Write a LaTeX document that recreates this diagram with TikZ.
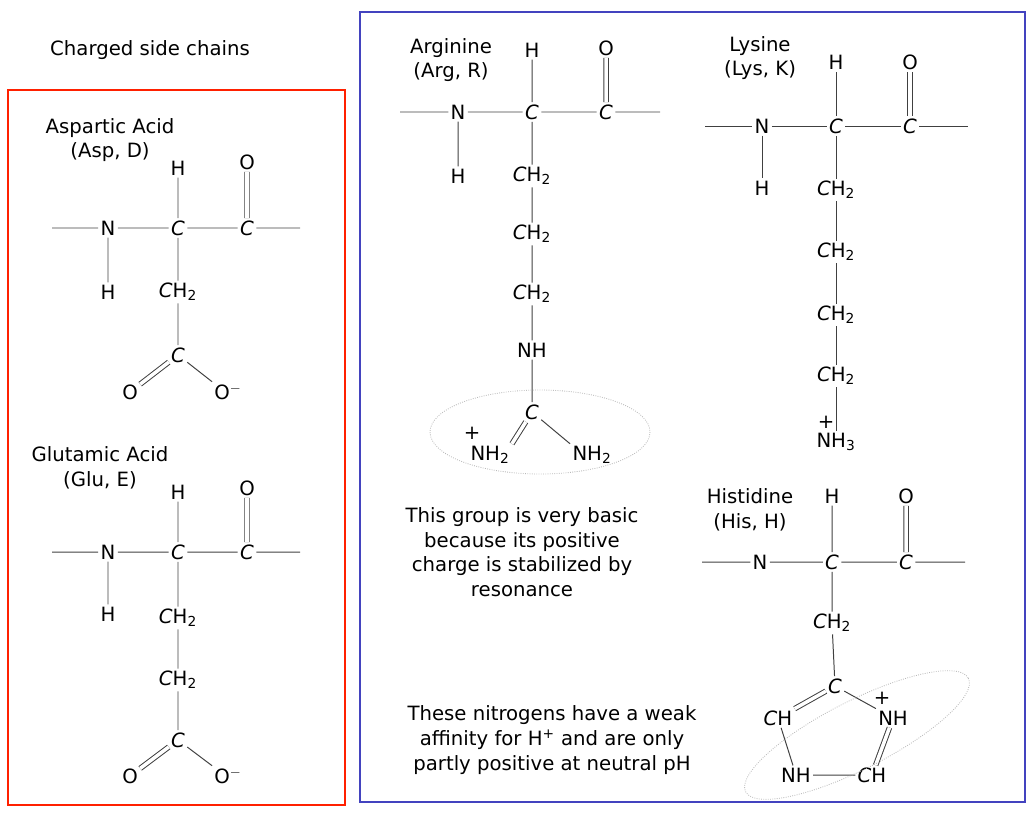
\documentclass[tikz,border=0pt]{standalone}
\usepackage{fontspec}
\setmainfont{DejaVu Sans}
\begin{document}
\begin{tikzpicture}[x=0.025cm,y=-0.025cm,
  every node/.style={font=\fontsize{14}{16}\selectfont},
  atm/.style={inner sep=1.5pt},
  bond/.style={line width=0.7pt,black!75},
  dbl/.style={line width=0.7pt,black!75,double distance=2.5pt},
  lbl/.style={align=center,font=\fontsize{14}{17.5}\selectfont},
  halo/.style={gray!55,densely dotted,line width=0.6pt}]
\useasboundingbox (0,0) rectangle (1036,815);
\newcommand{\Cc}{\textit{C}}
\node (title) at (150,50) {Charged side chains};
\draw[red!75!orange,line width=1.5pt] (8,90) rectangle (345,805);
\draw[blue!65!white!75!black,line width=1.5pt] (360,12) rectangle (1025,802);
% Asp
\node[lbl] (asplab) at (110,140) {Aspartic Acid\\(Asp, D)};
\coordinate (aL) at (52,228); \coordinate (aR) at (300,228);
\node[atm] (aN) at (108,228) {N}; \node[atm] (aCa) at (178,228) {\Cc}; \node[atm] (aC) at (247,228) {\Cc};
\node[atm] (aH) at (178,168) {H}; \node[atm] (aO) at (247,162) {O}; \node[atm] (aHn) at (108,292) {H};
\node[atm] (aB) at (178,292) {\Cc H\textsubscript{2}}; \node[atm] (aG) at (178,355) {\Cc};
\node[atm] (aO1) at (130,392) {O}; \node[atm] (aO2) at (228,392) {O$^{-}$};
\draw[bond] (aL)--(aN) (aN)--(aCa) (aCa)--(aC) (aC)--(aR) (aCa)--(aH) (aN)--(aHn) (aCa)--(aB) (aB)--(aG) (aG)--(aO2.north west);
\draw[dbl] (aC)--(aO) (aG)--(aO1);
% Glu
\node[lbl] (glulab) at (100,468) {Glutamic Acid\\(Glu, E)};
\coordinate (gL) at (52,552); \coordinate (gR) at (300,552);
\node[atm] (gN) at (108,552) {N}; \node[atm] (gCa) at (178,552) {\Cc}; \node[atm] (gC) at (247,552) {\Cc};
\node[atm] (gH) at (178,492) {H}; \node[atm] (gO) at (247,488) {O}; \node[atm] (gHn) at (108,614) {H};
\node[atm] (gB) at (178,618) {\Cc H\textsubscript{2}}; \node[atm] (gG) at (178,680) {\Cc H\textsubscript{2}};
\node[atm] (gD) at (178,740) {\Cc};
\node[atm] (gO1) at (130,776) {O}; \node[atm] (gO2) at (228,776) {O$^{-}$};
\draw[bond] (gL)--(gN) (gN)--(gCa) (gCa)--(gC) (gC)--(gR) (gCa)--(gH) (gN)--(gHn) (gCa)--(gB) (gB)--(gG) (gG)--(gD) (gD)--(gO2.north west);
\draw[dbl] (gC)--(gO) (gD)--(gO1);
% Arg
\node[lbl] (arglab) at (451,60) {Arginine\\(Arg, R)};
\coordinate (rL) at (400,112); \coordinate (rR) at (660,112);
\node[atm] (rN) at (458,112) {N}; \node[atm] (rCa) at (532,112) {\Cc}; \node[atm] (rC) at (606,112) {\Cc};
\node[atm] (rH) at (532,50) {H}; \node[atm] (rO) at (606,48) {O}; \node[atm] (rHn) at (458,176) {H};
\node[atm] (r1) at (532,176) {\Cc H\textsubscript{2}}; \node[atm] (r2) at (532,234) {\Cc H\textsubscript{2}};
\node[atm] (r3) at (532,294) {\Cc H\textsubscript{2}}; \node[atm] (r4) at (532,350) {NH};
\node[atm] (r5) at (532,412) {\Cc};
\node[atm] (r6) at (490,455) {NH\textsubscript{2}}; \node (r6p) at (472,433) {+};
\node[atm] (r7) at (592,455) {NH\textsubscript{2}};
\draw[bond] (rL)--(rN) (rN)--(rCa) (rCa)--(rC) (rC)--(rR) (rCa)--(rH) (rN)--(rHn) (rCa)--(r1) (r1)--(r2) (r2)--(r3) (r3)--(r4) (r4)--(r5) (r5)--(r7.north west);
\draw[dbl] (rC)--(rO) (r5)--(r6.north east);
\draw[halo] (540,432) ellipse [x radius=110,y radius=42];
\node[lbl] (argtxt) at (522,552) {This group is very basic\\because its positive\\charge is stabilized by\\resonance};
% Lys
\node[lbl] (lyslab) at (760,58) {Lysine\\(Lys, K)};
\coordinate (kL) at (705,126); \coordinate (kR) at (968,126);
\node[atm] (kN) at (762,126) {N}; \node[atm] (kCa) at (836,126) {\Cc}; \node[atm] (kC) at (910,126) {\Cc};
\node[atm] (kH) at (836,62) {H}; \node[atm] (kO) at (910,62) {O}; \node[atm] (kHn) at (762,188) {H};
\node[atm] (k1) at (836,190) {\Cc H\textsubscript{2}}; \node[atm] (k2) at (836,252) {\Cc H\textsubscript{2}};
\node[atm] (k3) at (836,315) {\Cc H\textsubscript{2}}; \node[atm] (k4) at (836,376) {\Cc H\textsubscript{2}};
\node[atm] (k5) at (836,442) {NH\textsubscript{3}}; \node (k5p) at (826,422) {+};
\draw[bond] (kL)--(kN) (kN)--(kCa) (kCa)--(kC) (kC)--(kR) (kCa)--(kH) (kN)--(kHn) (kCa)--(k1) (k1)--(k2) (k2)--(k3) (k3)--(k4) (k4)--(k5);
\draw[dbl] (kC)--(kO);
% His
\node[lbl] (hislab) at (750,510) {Histidine\\(His, H)};
\coordinate (hL) at (702,562); \coordinate (hR) at (965,562);
\node[atm] (hN) at (760,562) {N}; \node[atm] (hCa) at (832,562) {\Cc}; \node[atm] (hC) at (906,562) {\Cc};
\node[atm] (hH) at (832,496) {H}; \node[atm] (hO) at (906,496) {O};
\node[atm] (h1) at (832,623) {\Cc H\textsubscript{2}}; \node[atm] (h2) at (835,686) {\Cc};
\node[atm] (h3) at (778,718) {\Cc H}; \node[atm] (h4) at (893,718) {NH}; \node (h4p) at (882,698) {+};
\node[atm] (h5) at (796,775) {NH}; \node[atm] (h6) at (872,775) {\Cc H};
\draw[bond] (hL)--(hN) (hN)--(hCa) (hCa)--(hC) (hC)--(hR) (hCa)--(hH) (hCa)--(h1) (h1)--(h2) (h2)--(h4) (h3)--(h5) (h5)--(h6);
\draw[dbl] (hC)--(hO) (h2)--(h3) (h4)--(h6);
\draw[halo,rotate around={27:(857,735)}] (857,735) ellipse [x radius=125,y radius=34];
\node[lbl] (histxt) at (552,740) {These nitrogens have a weak\\affinity for H\textsuperscript{+} and are only\\partly positive at neutral pH};
\end{tikzpicture}
\end{document}
